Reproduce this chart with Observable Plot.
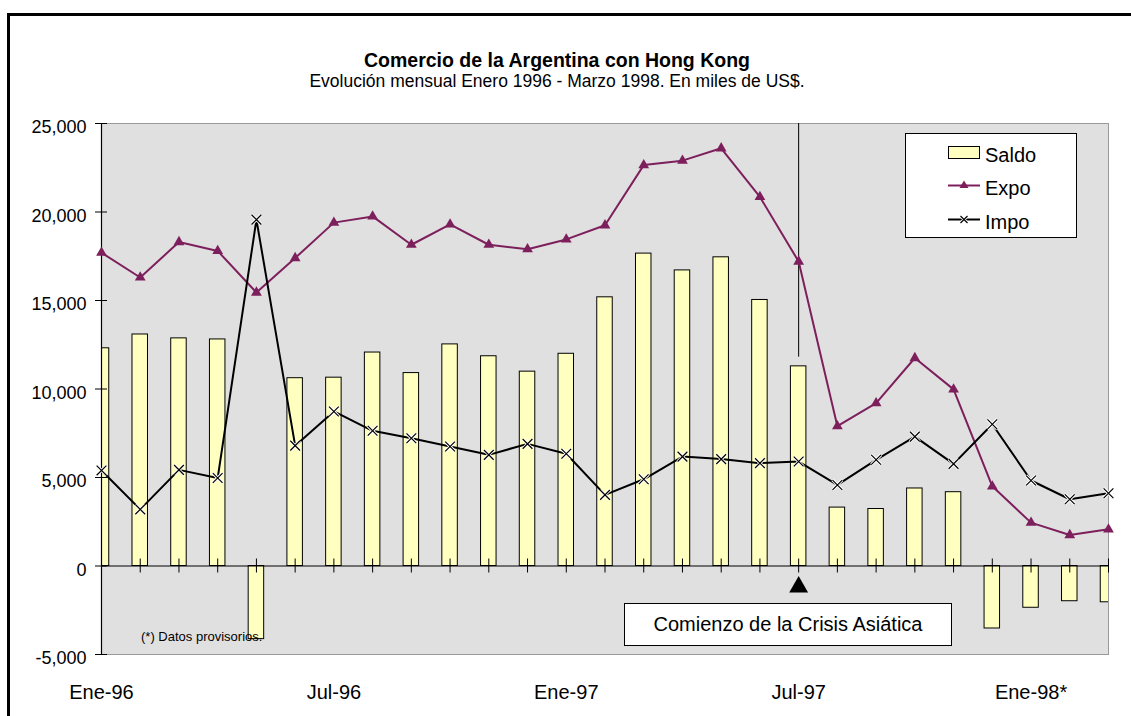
<!DOCTYPE html>
<html>
<head>
<meta charset="utf-8">
<script src="https://cdn.jsdelivr.net/npm/d3@7"></script>
<script src="https://cdn.jsdelivr.net/npm/@observablehq/plot@0.6"></script>
<style>
  body { margin: 0; background: #fff; font-family: "Liberation Sans", Arial, sans-serif; color: #000; }
  #page { position: relative; width: 1131px; height: 716px; overflow: hidden; background: #fff; }
  #border { position: absolute; left: 7px; top: 13px; width: 1300px; height: 900px; border-left: 3px solid #000; border-top: 3px solid #000; }
  #title { position: absolute; left: 0; width: 1114px; top: 51px; text-align: center; font-weight: bold; font-size: 19.5px; line-height: 19.5px; }
  #subtitle { position: absolute; left: 0; width: 1114px; top: 73px; text-align: center; font-size: 17.5px; line-height: 17.5px; }
  #chart { position: absolute; left: 0; top: 100px; }
  #legend { position: absolute; left: 905px; top: 133px; }
  #crisis { position: absolute; left: 624px; top: 603px; width: 328px; height: 43px; box-sizing: border-box; border: 1px solid #000; background: #fff; display: flex; align-items: center; justify-content: center; font-size: 20px; }
  #note { position: absolute; left: 141px; top: 630px; font-size: 13px; line-height: 13px; white-space: nowrap; }
</style>
</head>
<body>
<div id="page">
  <div id="border"></div>
  <div id="title">Comercio de la Argentina con Hong Kong</div>
  <div id="subtitle">Evolución mensual Enero 1996 - Marzo 1998. En miles de US$.</div>
  <div id="chart"></div>
  <svg id="legend" width="172" height="105" style="font-family:'Liberation Sans',Arial,sans-serif">
    <rect x="0.5" y="0.5" width="171" height="104" fill="#fff" stroke="#000"/>
    <rect x="43.5" y="13.5" width="31" height="12" fill="#ffffc0" stroke="#000"/>
    <text x="80" y="29" font-size="20">Saldo</text>
    <line x1="43" x2="75" y1="52.5" y2="52.5" stroke="#7d1f5c" stroke-width="2"/>
    <path d="M59,47.5 L63.5,55 L54.5,55 Z" fill="#7d1f5c"/>
    <text x="80" y="62" font-size="20">Expo</text>
    <line x1="43" x2="75" y1="86.5" y2="86.5" stroke="#000" stroke-width="2"/>
    <path d="M55.5,83 L62.5,90 M62.5,83 L55.5,90" stroke="#fff" stroke-width="3"/>
    <path d="M55.5,83 L62.5,90 M62.5,83 L55.5,90" stroke="#000" stroke-width="1.2"/>
    <text x="80" y="96" font-size="20">Impo</text>
  </svg>
  <div id="note">(*) Datos provisorios.</div>
  <div id="crisis">Comienzo de la Crisis Asiática</div>
</div>
<script>
const meses = ["Ene-96","Feb-96","Mar-96","Abr-96","May-96","Jun-96","Jul-96","Ago-96","Sep-96","Oct-96","Nov-96","Dic-96",
               "Ene-97","Feb-97","Mar-97","Abr-97","May-97","Jun-97","Jul-97","Ago-97","Sep-97","Oct-97","Nov-97","Dic-97",
               "Ene-98","Feb-98","Mar-98"];
const expo  = [17700,16300,18300,17800,15450,17400,19400,19750,18150,19300,18150,17900,
               18450,19250,22650,22900,23600,20850,17200,7900,9200,11750,9980,4500,
               2450,1750,2070];
const impo  = [5400,3200,5430,4970,19570,6800,8730,7640,7220,6750,6280,6900,
               6340,4020,4900,6180,6040,5810,5900,4580,6000,7310,5770,8010,
               4830,3770,4110];
const saldo = [12300,13080,12860,12800,-4130,10610,10640,12060,10900,12520,11850,10980,
               11990,15180,17650,16700,17440,15030,11280,3300,3220,4380,4170,-3530,
               -2360,-1990,-2050];
const xTickLabels = ["Ene-96","Jul-96","Ene-97","Jul-97","Ene-98*"];
const xTickMonths = ["Ene-96","Jul-96","Ene-97","Jul-97","Ene-98"];
const yTicks = [-5000,0,5000,10000,15000,20000,25000];
const crisisMonth = "Jul-97";
const crisisLineFrom = 11800;

const data = meses.map((m, i) => ({i, mes: m, expo: expo[i], impo: impo[i], saldo: saldo[i]}));
const xTickIdx = xTickMonths.map(m => meses.indexOf(m));
const crisisIdx = meses.indexOf(crisisMonth);
const yMax = d3.max(yTicks), yMin = d3.min(yTicks);
const fmt = d3.formatLocale({decimal: ".", thousands: ",", grouping: [3], currency: ["$", ""], minus: "-"}).format(",");

const expoColor = "#7d1f5c";
const font = "'Liberation Sans', Arial, sans-serif";

const chart = Plot.plot({
  width: 1131,
  height: 616,
  marginLeft: 101,
  marginRight: 23,
  marginTop: 23,
  marginBottom: 62,
  x: {domain: [0, meses.length - 1], label: null},
  y: {domain: [yMin, yMax], label: null},
  style: {fontFamily: font, color: "#000", background: "transparent", overflow: "visible"},
  marks: [
    Plot.frame({fill: "#e0e0e0", stroke: "#9a9a9a"}),
    Plot.rectY(data, {x1: d => d.i - 0.2, x2: d => d.i + 0.2, y1: 0, y2: "saldo", fill: "#ffffc0", stroke: "#000", strokeWidth: 1, clip: true}),
    Plot.ruleY([0], {stroke: "#000", strokeWidth: 1}),
    Plot.ruleX(data, {x: "i", y1: 0, y2: 0, insetTop: -7, insetBottom: -7, stroke: "#000", strokeWidth: 1}),
    Plot.ruleX([0], {stroke: "#000", strokeWidth: 1.2}),
    Plot.ruleY(yTicks, {x1: 0, x2: 0, insetLeft: -6, insetRight: -6, stroke: "#000", strokeWidth: 1}),
    Plot.ruleX([crisisIdx], {y1: crisisLineFrom, y2: yMax, stroke: "#000", strokeWidth: 1}),
    Plot.dot([crisisIdx], {x: d => d, y: 0, dy: 21, symbol: "triangle", r: 7, fill: "#000", stroke: "none"}),
    Plot.line(data, {x: "i", y: "expo", stroke: expoColor, strokeWidth: 2}),
    Plot.dot(data, {x: "i", y: "expo", symbol: "triangle", r: 4, fill: expoColor, stroke: "none"}),
    Plot.line(data, {x: "i", y: "impo", stroke: "#000", strokeWidth: 2}),
    Plot.dot(data, {x: "i", y: "impo", symbol: "times", r: 4.5, stroke: "#fff", strokeWidth: 3}),
    Plot.dot(data, {x: "i", y: "impo", symbol: "times", r: 4.5, stroke: "#000", strokeWidth: 1.2}),
    Plot.axisY({ticks: yTicks, tickFormat: fmt, tickSize: 0, tickPadding: 15, fontSize: 18, dy: 4, label: null}),
    Plot.axisX({ticks: xTickIdx, tickFormat: d => xTickLabels[xTickIdx.indexOf(d)], tickSize: 0, tickPadding: 30, fontSize: 20, label: null})
  ]
});
document.getElementById("chart").appendChild(chart);
</script>
</body>
</html>
